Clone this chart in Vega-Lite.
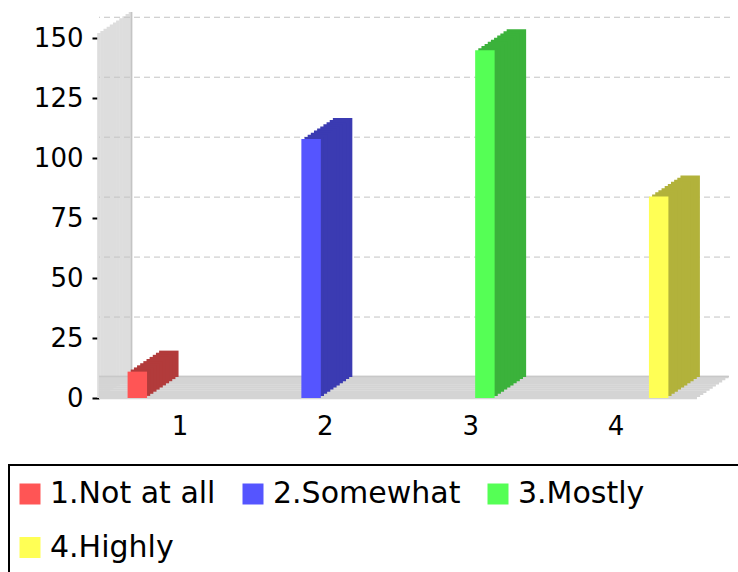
{
  "$schema": "https://vega.github.io/schema/vega-lite/v6.json",
  "width": 598,
  "height": 365,
  "autosize": {"type": "none"},
  "padding": {"left": 99, "top": 33, "right": 41, "bottom": 174},
  "background": "white",
  "config": {
    "view": {"stroke": null},
    "font": "DejaVu Sans",
    "axis": {"grid": false, "domain": false, "labelFont": "DejaVu Sans", "labelFontSize": 26, "labelColor": "#000000"},
    "axisY": {"ticks": true, "tickColor": "#000000", "tickSize": 7, "tickWidth": 2, "labelPadding": 9},
    "axisX": {"ticks": false, "labelPadding": 15, "labelAngle": 0},
    "legend": {"strokeColor": "#000000", "strokeWidth": 2, "fillColor": "#ffffff"}
  },
  "data": {"values": [
    {"category": "1", "series": "1.Not at all", "value": 11},
    {"category": "2", "series": "2.Somewhat", "value": 108},
    {"category": "3", "series": "3.Mostly", "value": 145},
    {"category": "4", "series": "4.Highly", "value": 84}
  ]},
  "resolve": {"scale": {"x": "independent"}},
  "layer": [
    {
      "data": {"values": [{"d": 0}]},
      "layer": [
        {"mark": {"type": "rule", "color": "#dddddd", "strokeWidth": 3.6, "strokeCap": "butt", "xOffset": 0, "yOffset": 0, "y2Offset": 0}, "encoding": {"x": {"datum": 0, "type": "quantitative", "scale": {"domain": [0, 1]}, "axis": null}, "y": {"datum": 0, "type": "quantitative", "title": null}, "y2": {"datum": 152.2}}},
        {"mark": {"type": "rule", "color": "#dddddd", "strokeWidth": 3.6, "strokeCap": "butt", "xOffset": 3.15, "yOffset": -2.1, "y2Offset": -2.1}, "encoding": {"x": {"datum": 0, "type": "quantitative", "scale": {"domain": [0, 1]}, "axis": null}, "y": {"datum": 0, "type": "quantitative", "title": null}, "y2": {"datum": 152.2}}},
        {"mark": {"type": "rule", "color": "#dddddd", "strokeWidth": 3.6, "strokeCap": "butt", "xOffset": 6.3, "yOffset": -4.2, "y2Offset": -4.2}, "encoding": {"x": {"datum": 0, "type": "quantitative", "scale": {"domain": [0, 1]}, "axis": null}, "y": {"datum": 0, "type": "quantitative", "title": null}, "y2": {"datum": 152.2}}},
        {"mark": {"type": "rule", "color": "#dddddd", "strokeWidth": 3.6, "strokeCap": "butt", "xOffset": 9.45, "yOffset": -6.3, "y2Offset": -6.3}, "encoding": {"x": {"datum": 0, "type": "quantitative", "scale": {"domain": [0, 1]}, "axis": null}, "y": {"datum": 0, "type": "quantitative", "title": null}, "y2": {"datum": 152.2}}},
        {"mark": {"type": "rule", "color": "#dddddd", "strokeWidth": 3.6, "strokeCap": "butt", "xOffset": 12.6, "yOffset": -8.4, "y2Offset": -8.4}, "encoding": {"x": {"datum": 0, "type": "quantitative", "scale": {"domain": [0, 1]}, "axis": null}, "y": {"datum": 0, "type": "quantitative", "title": null}, "y2": {"datum": 152.2}}},
        {"mark": {"type": "rule", "color": "#dddddd", "strokeWidth": 3.6, "strokeCap": "butt", "xOffset": 15.75, "yOffset": -10.5, "y2Offset": -10.5}, "encoding": {"x": {"datum": 0, "type": "quantitative", "scale": {"domain": [0, 1]}, "axis": null}, "y": {"datum": 0, "type": "quantitative", "title": null}, "y2": {"datum": 152.2}}},
        {"mark": {"type": "rule", "color": "#dddddd", "strokeWidth": 3.6, "strokeCap": "butt", "xOffset": 18.9, "yOffset": -12.6, "y2Offset": -12.6}, "encoding": {"x": {"datum": 0, "type": "quantitative", "scale": {"domain": [0, 1]}, "axis": null}, "y": {"datum": 0, "type": "quantitative", "title": null}, "y2": {"datum": 152.2}}},
        {"mark": {"type": "rule", "color": "#dddddd", "strokeWidth": 3.6, "strokeCap": "butt", "xOffset": 22.05, "yOffset": -14.7, "y2Offset": -14.7}, "encoding": {"x": {"datum": 0, "type": "quantitative", "scale": {"domain": [0, 1]}, "axis": null}, "y": {"datum": 0, "type": "quantitative", "title": null}, "y2": {"datum": 152.2}}},
        {"mark": {"type": "rule", "color": "#dddddd", "strokeWidth": 3.6, "strokeCap": "butt", "xOffset": 25.2, "yOffset": -16.8, "y2Offset": -16.8}, "encoding": {"x": {"datum": 0, "type": "quantitative", "scale": {"domain": [0, 1]}, "axis": null}, "y": {"datum": 0, "type": "quantitative", "title": null}, "y2": {"datum": 152.2}}},
        {"mark": {"type": "rule", "color": "#dddddd", "strokeWidth": 3.6, "strokeCap": "butt", "xOffset": 28.35, "yOffset": -18.9, "y2Offset": -18.9}, "encoding": {"x": {"datum": 0, "type": "quantitative", "scale": {"domain": [0, 1]}, "axis": null}, "y": {"datum": 0, "type": "quantitative", "title": null}, "y2": {"datum": 152.2}}},
        {"mark": {"type": "rule", "color": "#dddddd", "strokeWidth": 3.6, "strokeCap": "butt", "xOffset": 31.5, "yOffset": -21, "y2Offset": -21}, "encoding": {"x": {"datum": 0, "type": "quantitative", "scale": {"domain": [0, 1]}, "axis": null}, "y": {"datum": 0, "type": "quantitative", "title": null}, "y2": {"datum": 152.2}}},
        {"mark": {"type": "rule", "color": "#c4c4c4", "strokeWidth": 1.5, "strokeCap": "butt", "xOffset": 32.5, "yOffset": -21, "y2Offset": -21}, "encoding": {"x": {"datum": 0, "type": "quantitative", "scale": {"domain": [0, 1]}, "axis": null}, "y": {"datum": 0, "type": "quantitative", "title": null}, "y2": {"datum": 152.2}}},
        {"mark": {"type": "rule", "color": "#d4d4d4", "strokeWidth": 2.4, "strokeCap": "butt", "xOffset": 0, "x2Offset": 0, "yOffset": 0}, "encoding": {"y": {"datum": 0, "type": "quantitative", "title": null}}},
        {"mark": {"type": "rule", "color": "#d4d4d4", "strokeWidth": 2.4, "strokeCap": "butt", "xOffset": 3.15, "x2Offset": 3.15, "yOffset": -2.1}, "encoding": {"y": {"datum": 0, "type": "quantitative", "title": null}}},
        {"mark": {"type": "rule", "color": "#d4d4d4", "strokeWidth": 2.4, "strokeCap": "butt", "xOffset": 6.3, "x2Offset": 6.3, "yOffset": -4.2}, "encoding": {"y": {"datum": 0, "type": "quantitative", "title": null}}},
        {"mark": {"type": "rule", "color": "#d4d4d4", "strokeWidth": 2.4, "strokeCap": "butt", "xOffset": 9.45, "x2Offset": 9.45, "yOffset": -6.3}, "encoding": {"y": {"datum": 0, "type": "quantitative", "title": null}}},
        {"mark": {"type": "rule", "color": "#d4d4d4", "strokeWidth": 2.4, "strokeCap": "butt", "xOffset": 12.6, "x2Offset": 12.6, "yOffset": -8.4}, "encoding": {"y": {"datum": 0, "type": "quantitative", "title": null}}},
        {"mark": {"type": "rule", "color": "#d4d4d4", "strokeWidth": 2.4, "strokeCap": "butt", "xOffset": 15.75, "x2Offset": 15.75, "yOffset": -10.5}, "encoding": {"y": {"datum": 0, "type": "quantitative", "title": null}}},
        {"mark": {"type": "rule", "color": "#d4d4d4", "strokeWidth": 2.4, "strokeCap": "butt", "xOffset": 18.9, "x2Offset": 18.9, "yOffset": -12.6}, "encoding": {"y": {"datum": 0, "type": "quantitative", "title": null}}},
        {"mark": {"type": "rule", "color": "#d4d4d4", "strokeWidth": 2.4, "strokeCap": "butt", "xOffset": 22.05, "x2Offset": 22.05, "yOffset": -14.7}, "encoding": {"y": {"datum": 0, "type": "quantitative", "title": null}}},
        {"mark": {"type": "rule", "color": "#d4d4d4", "strokeWidth": 2.4, "strokeCap": "butt", "xOffset": 25.2, "x2Offset": 25.2, "yOffset": -16.8}, "encoding": {"y": {"datum": 0, "type": "quantitative", "title": null}}},
        {"mark": {"type": "rule", "color": "#d4d4d4", "strokeWidth": 2.4, "strokeCap": "butt", "xOffset": 28.35, "x2Offset": 28.35, "yOffset": -18.9}, "encoding": {"y": {"datum": 0, "type": "quantitative", "title": null}}},
        {"mark": {"type": "rule", "color": "#d4d4d4", "strokeWidth": 2.4, "strokeCap": "butt", "xOffset": 31.5, "x2Offset": 31.5, "yOffset": -21}, "encoding": {"y": {"datum": 0, "type": "quantitative", "title": null}}},
        {"mark": {"type": "rule", "color": "#c8c8c8", "strokeWidth": 1.5, "strokeCap": "butt", "xOffset": 32, "x2Offset": 31.5, "yOffset": -21.5}, "encoding": {"y": {"datum": 0, "type": "quantitative", "title": null}}},
        {
          "data": {"values": [{"tick": 25}, {"tick": 50}, {"tick": 75}, {"tick": 100}, {"tick": 125}, {"tick": 150}]},
          "mark": {"type": "rule", "color": "#c4c4c4", "strokeWidth": 1, "strokeDash": [6, 4], "xOffset": 33, "x2Offset": 26, "yOffset": -21},
          "encoding": {"y": {"field": "tick", "type": "quantitative", "title": null}}
        }
      ]
    },
    {
      "mark": {"type": "point", "opacity": 0},
      "encoding": {
        "x": {"field": "category", "type": "nominal", "title": null, "scale": {"type": "band", "domain": ["1", "2", "3", "4"], "paddingInner": 0, "paddingOuter": 0.0575}, "axis": {"labelFontSize": 26, "labelPadding": 15, "ticks": false, "domain": false, "labelAngle": 0}},
        "y": {"field": "value", "type": "quantitative", "title": null}
      }
    },
    {
      "resolve": {"scale": {"color": "independent"}},
      "layer": [
        {"mark": {"type": "bar", "xOffset": 31.5, "x2Offset": 31.5, "yOffset": -21, "y2Offset": -21}, "encoding": {"x": {"field": "series", "type": "nominal", "scale": {"domain": ["1.Not at all", "2.Somewhat", "3.Mostly", "4.Highly"], "paddingInner": 0.888, "paddingOuter": 0.1645}, "axis": null}, "y": {"field": "value", "type": "quantitative", "scale": {"domain": [0, 152.2], "nice": false}, "title": null}, "color": {"field": "series", "type": "nominal", "scale": {"domain": ["1.Not at all", "2.Somewhat", "3.Mostly", "4.Highly"], "range": ["#B23B3B", "#3B3BB2", "#3BB23B", "#B2B23B"]}, "legend": null}}},
        {"mark": {"type": "bar", "xOffset": 28.35, "x2Offset": 28.35, "yOffset": -18.9, "y2Offset": -18.9}, "encoding": {"x": {"field": "series", "type": "nominal", "axis": null}, "y": {"field": "value", "type": "quantitative", "title": null}, "color": {"field": "series", "type": "nominal", "scale": {"domain": ["1.Not at all", "2.Somewhat", "3.Mostly", "4.Highly"], "range": ["#B23B3B", "#3B3BB2", "#3BB23B", "#B2B23B"]}, "legend": null}}},
        {"mark": {"type": "bar", "xOffset": 25.2, "x2Offset": 25.2, "yOffset": -16.8, "y2Offset": -16.8}, "encoding": {"x": {"field": "series", "type": "nominal", "axis": null}, "y": {"field": "value", "type": "quantitative", "title": null}, "color": {"field": "series", "type": "nominal", "scale": {"domain": ["1.Not at all", "2.Somewhat", "3.Mostly", "4.Highly"], "range": ["#B23B3B", "#3B3BB2", "#3BB23B", "#B2B23B"]}, "legend": null}}},
        {"mark": {"type": "bar", "xOffset": 22.05, "x2Offset": 22.05, "yOffset": -14.7, "y2Offset": -14.7}, "encoding": {"x": {"field": "series", "type": "nominal", "axis": null}, "y": {"field": "value", "type": "quantitative", "title": null}, "color": {"field": "series", "type": "nominal", "scale": {"domain": ["1.Not at all", "2.Somewhat", "3.Mostly", "4.Highly"], "range": ["#B23B3B", "#3B3BB2", "#3BB23B", "#B2B23B"]}, "legend": null}}},
        {"mark": {"type": "bar", "xOffset": 18.9, "x2Offset": 18.9, "yOffset": -12.6, "y2Offset": -12.6}, "encoding": {"x": {"field": "series", "type": "nominal", "axis": null}, "y": {"field": "value", "type": "quantitative", "title": null}, "color": {"field": "series", "type": "nominal", "scale": {"domain": ["1.Not at all", "2.Somewhat", "3.Mostly", "4.Highly"], "range": ["#B23B3B", "#3B3BB2", "#3BB23B", "#B2B23B"]}, "legend": null}}},
        {"mark": {"type": "bar", "xOffset": 15.75, "x2Offset": 15.75, "yOffset": -10.5, "y2Offset": -10.5}, "encoding": {"x": {"field": "series", "type": "nominal", "axis": null}, "y": {"field": "value", "type": "quantitative", "title": null}, "color": {"field": "series", "type": "nominal", "scale": {"domain": ["1.Not at all", "2.Somewhat", "3.Mostly", "4.Highly"], "range": ["#B23B3B", "#3B3BB2", "#3BB23B", "#B2B23B"]}, "legend": null}}},
        {"mark": {"type": "bar", "xOffset": 12.6, "x2Offset": 12.6, "yOffset": -8.4, "y2Offset": -8.4}, "encoding": {"x": {"field": "series", "type": "nominal", "axis": null}, "y": {"field": "value", "type": "quantitative", "title": null}, "color": {"field": "series", "type": "nominal", "scale": {"domain": ["1.Not at all", "2.Somewhat", "3.Mostly", "4.Highly"], "range": ["#B23B3B", "#3B3BB2", "#3BB23B", "#B2B23B"]}, "legend": null}}},
        {"mark": {"type": "bar", "xOffset": 9.45, "x2Offset": 9.45, "yOffset": -6.3, "y2Offset": -6.3}, "encoding": {"x": {"field": "series", "type": "nominal", "axis": null}, "y": {"field": "value", "type": "quantitative", "title": null}, "color": {"field": "series", "type": "nominal", "scale": {"domain": ["1.Not at all", "2.Somewhat", "3.Mostly", "4.Highly"], "range": ["#B23B3B", "#3B3BB2", "#3BB23B", "#B2B23B"]}, "legend": null}}},
        {"mark": {"type": "bar", "xOffset": 6.3, "x2Offset": 6.3, "yOffset": -4.2, "y2Offset": -4.2}, "encoding": {"x": {"field": "series", "type": "nominal", "axis": null}, "y": {"field": "value", "type": "quantitative", "title": null}, "color": {"field": "series", "type": "nominal", "scale": {"domain": ["1.Not at all", "2.Somewhat", "3.Mostly", "4.Highly"], "range": ["#B23B3B", "#3B3BB2", "#3BB23B", "#B2B23B"]}, "legend": null}}},
        {"mark": {"type": "bar", "xOffset": 3.15, "x2Offset": 3.15, "yOffset": -2.1, "y2Offset": -2.1}, "encoding": {"x": {"field": "series", "type": "nominal", "axis": null}, "y": {"field": "value", "type": "quantitative", "title": null}, "color": {"field": "series", "type": "nominal", "scale": {"domain": ["1.Not at all", "2.Somewhat", "3.Mostly", "4.Highly"], "range": ["#B23B3B", "#3B3BB2", "#3BB23B", "#B2B23B"]}, "legend": null}}},
        {
          "mark": {"type": "bar"},
          "encoding": {
            "x": {"field": "series", "type": "nominal", "axis": null},
            "y": {"field": "value", "type": "quantitative", "title": null, "axis": {"values": [0, 25, 50, 75, 100, 125, 150]}},
            "color": {
              "field": "series", "type": "nominal",
              "scale": {"domain": ["1.Not at all", "2.Somewhat", "3.Mostly", "4.Highly"], "range": ["#FF5555", "#5555FF", "#55FF55", "#FFFF55"]},
              "legend": {
                "orient": "none", "legendX": -90, "legendY": 432,
                "direction": "horizontal", "columns": 3, "gridAlign": "each",
                "title": "\u2800", "titleOrient": "right", "titleFontSize": 12, "titlePadding": 82, "titleColor": "#ffffff",
                "labelFont": "DejaVu Sans", "labelFontSize": 30, "labelColor": "#000000", "labelLimit": 600, "labelOffset": 5,
                "symbolType": "square", "symbolSize": 441, "symbolStrokeWidth": 0, "symbolOffset": -8,
                "columnPadding": 26, "rowPadding": 23.5, "padding": 14
              }
            }
          }
        }
      ]
    }
  ]
}
